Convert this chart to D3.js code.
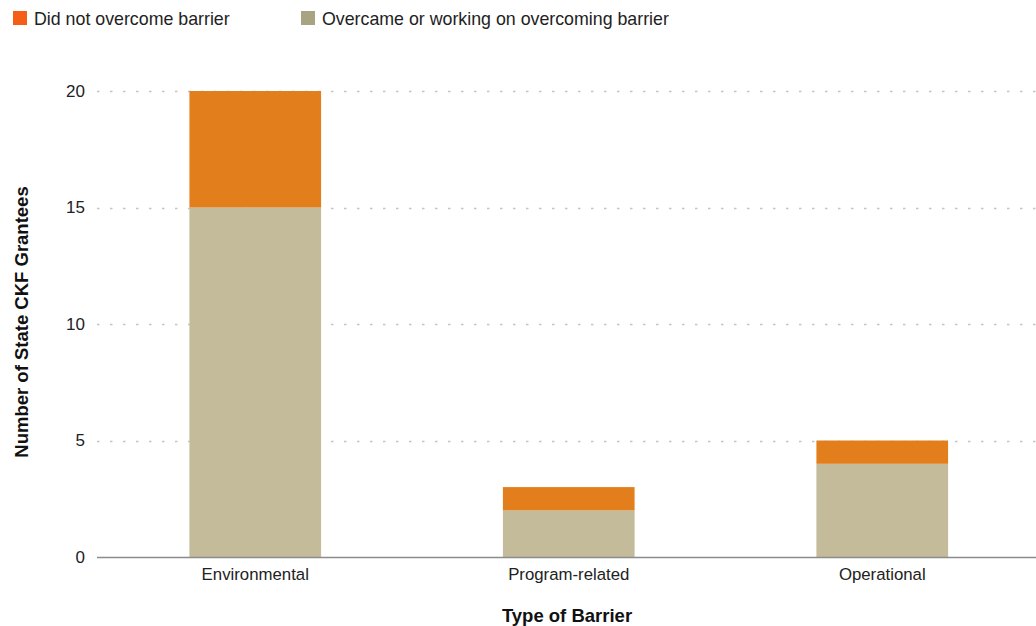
<!DOCTYPE html>
<html>
<head>
<meta charset="utf-8">
<script src="https://cdn.jsdelivr.net/npm/d3@7"></script>
<style>
  html, body { margin: 0; padding: 0; background: #fff; }
  svg { display: block; font-family: "Liberation Sans", Arial, sans-serif; }
</style>
</head>
<body>
<svg id="chart" width="1036" height="626"></svg>
<script>
const categories = ["Environmental", "Program-related", "Operational"];
const overcame = [15, 2, 4];
const notOvercome = [5, 1, 1];
const yTicks = [0, 5, 10, 15, 20];
const seriesNames = ["Did not overcome barrier", "Overcame or working on overcoming barrier"];
const barColors = ["#E37E1C", "#C4BB9A"];
const legendColors = ["#F55E16", "#A8A482"];

const svg = d3.select("#chart");
const margin = { left: 97, right: 0, top: 91, bottom: 69 };
const W = 1036, H = 626;

// Band scale runs slightly past the right edge so the last band is clipped like the plot area
const x = d3.scaleBand()
  .domain(categories)
  .range([margin.left + 1.5, W + 3])
  .paddingInner(0.58)
  .paddingOuter(0.29);

const y = d3.scaleLinear()
  .domain([0, 20])
  .range([H - margin.bottom, margin.top]);

// Dotted gridlines
svg.append("g")
  .selectAll("line")
  .data(yTicks.filter(d => d > 0))
  .join("line")
  .attr("x1", margin.left)
  .attr("x2", W)
  .attr("y1", d => Math.round(y(d)) + 0.5)
  .attr("y2", d => Math.round(y(d)) + 0.5)
  .attr("stroke", "#c4c4c4")
  .attr("stroke-width", 1.3)
  .attr("stroke-dasharray", "2.5,10.5");

// Stacked bars
const rows = categories.map((c, i) => ({ cat: c, over: overcame[i], not: notOvercome[i] }));
const stack = d3.stack().keys(["over", "not"])(rows);
const stackColors = { over: barColors[1], not: barColors[0] };

svg.append("g")
  .selectAll("g")
  .data(stack)
  .join("g")
  .attr("fill", s => stackColors[s.key])
  .selectAll("rect")
  .data(s => s)
  .join("rect")
  .attr("x", d => x(d.data.cat))
  .attr("width", x.bandwidth())
  .attr("y", d => y(d[1]))
  .attr("height", d => y(d[0]) - y(d[1]));

// Baseline
svg.append("line")
  .attr("x1", margin.left)
  .attr("x2", W)
  .attr("y1", y(0) + 0.5)
  .attr("y2", y(0) + 0.5)
  .attr("stroke", "#8c8c8c")
  .attr("stroke-width", 1.5);

// Y tick labels
const yAxis = d3.axisLeft(y).tickValues(yTicks).tickSize(0).tickPadding(0);
svg.append("g")
  .attr("transform", `translate(${margin.left - 12},0)`)
  .call(yAxis)
  .call(g => g.select(".domain").remove())
  .call(g => g.selectAll("text")
    .attr("font-family", "Liberation Sans, Arial, sans-serif")
    .attr("font-size", 17)
    .attr("fill", "#222"));

// X category labels
const xAxis = d3.axisBottom(x).tickSize(0).tickPadding(0);
svg.append("g")
  .attr("transform", `translate(0,${y(0) + 11})`)
  .call(xAxis)
  .call(g => g.select(".domain").remove())
  .call(g => g.selectAll("text")
    .attr("font-family", "Liberation Sans, Arial, sans-serif")
    .attr("font-size", 16.8)
    .attr("fill", "#222"));

// Axis titles
svg.append("text")
  .attr("x", 567)
  .attr("y", 622)
  .attr("text-anchor", "middle")
  .attr("font-size", 18.5)
  .attr("font-weight", "bold")
  .attr("fill", "#111")
  .text("Type of Barrier");

svg.append("text")
  .attr("transform", "translate(28,322) rotate(-90)")
  .attr("text-anchor", "middle")
  .attr("font-size", 18.5)
  .attr("font-weight", "bold")
  .attr("fill", "#111")
  .text("Number of State CKF Grantees");

// Legend
const legendX = [13, 301];
const legend = svg.append("g");
seriesNames.forEach((name, i) => {
  legend.append("rect")
    .attr("x", legendX[i])
    .attr("y", 11)
    .attr("width", 14)
    .attr("height", 14)
    .attr("fill", legendColors[i]);
  legend.append("text")
    .attr("x", legendX[i] + 21)
    .attr("y", 25)
    .attr("font-size", 17.8)
    .attr("fill", "#222")
    .text(name);
});
</script>
</body>
</html>
